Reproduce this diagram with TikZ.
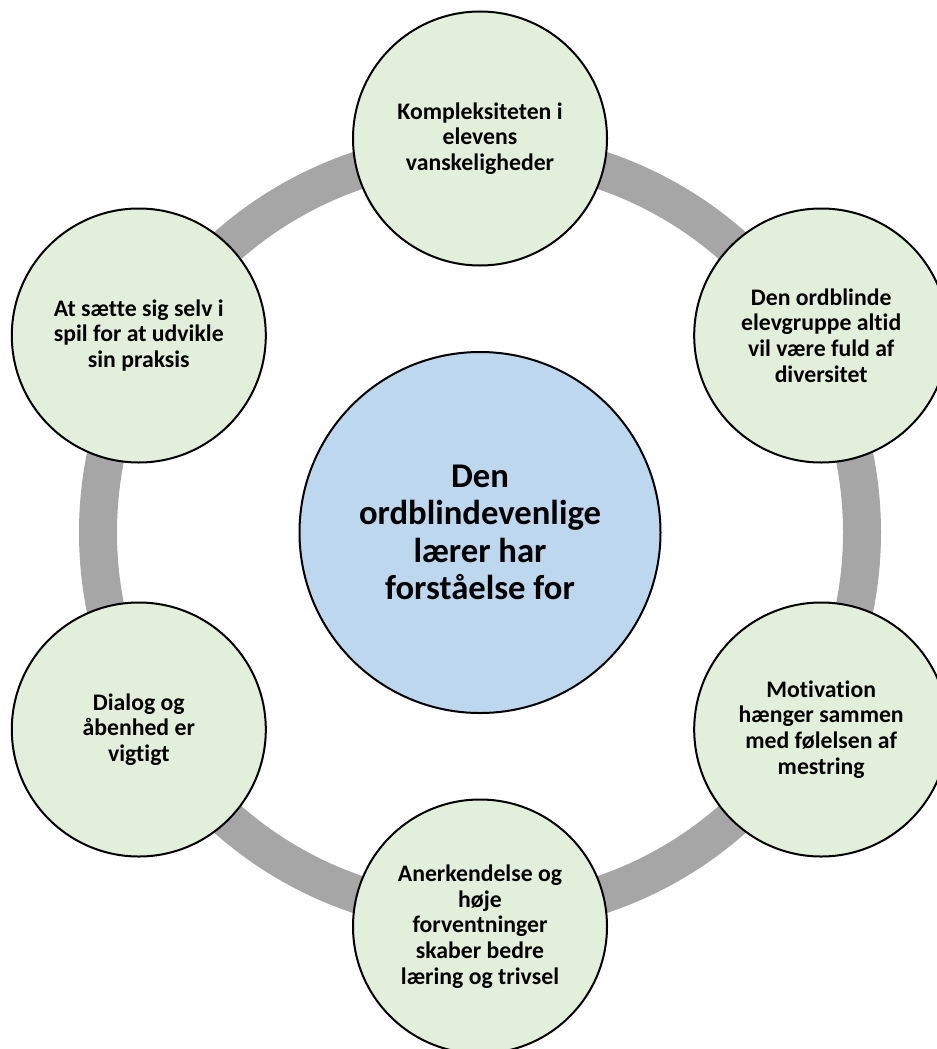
\documentclass[tikz,border=0pt]{standalone}
\usepackage{fontspec}
\setmainfont{Carlito}[Ligatures=NoCommon]
\definecolor{ringgray}{HTML}{A6A6A6}
\definecolor{leafgreen}{HTML}{E2EFDA}
\definecolor{hubblue}{HTML}{BDD7EE}
\begin{document}
\begin{tikzpicture}[x=0.75pt,y=-0.75pt,
  leaf/.style={circle,draw=black,line width=1.5pt,fill=leafgreen,minimum size=190.5pt,inner sep=0pt,align=center,font=\fontsize{17.8}{19.3}\selectfont\bfseries},
  hub/.style={circle,draw=black,line width=1.5pt,fill=hubblue,minimum size=270.75pt,inner sep=0pt,align=center,font=\fontsize{26}{28}\selectfont\bfseries},
  ringline/.style={draw=ringgray,line width=28.5pt}]
\useasboundingbox (0,0) rectangle (937,1049);
\clip (0,0) rectangle (937,1049);
\coordinate (o) at (480,532.5);
\draw[ringline] (o) circle[radius=286.5pt];
\node[hub] (hub) at (o) {Den\\ordblindevenlige\\lærer har\\forståelse for};
\node[leaf] (top) at (480,138.5) {Kompleksiteten i\\elevens\\vanskeligheder};
\node[leaf] (ur) at (821.2,335.5) {Den ordblinde\\elevgruppe altid\\vil være fuld af\\diversitet};
\node[leaf] (lr) at (821.2,729.5) {Motivation\\hænger sammen\\med følelsen af\\mestring};
\node[leaf] (bot) at (480,926.5) {Anerkendelse og\\høje\\forventninger\\skaber bedre\\læring og trivsel};
\node[leaf] (ll) at (138.8,729.5) {Dialog og\\åbenhed er\\vigtigt};
\node[leaf] (ul) at (138.8,335.5) {At sætte sig selv i\\spil for at udvikle\\sin praksis};
\end{tikzpicture}
\end{document}
